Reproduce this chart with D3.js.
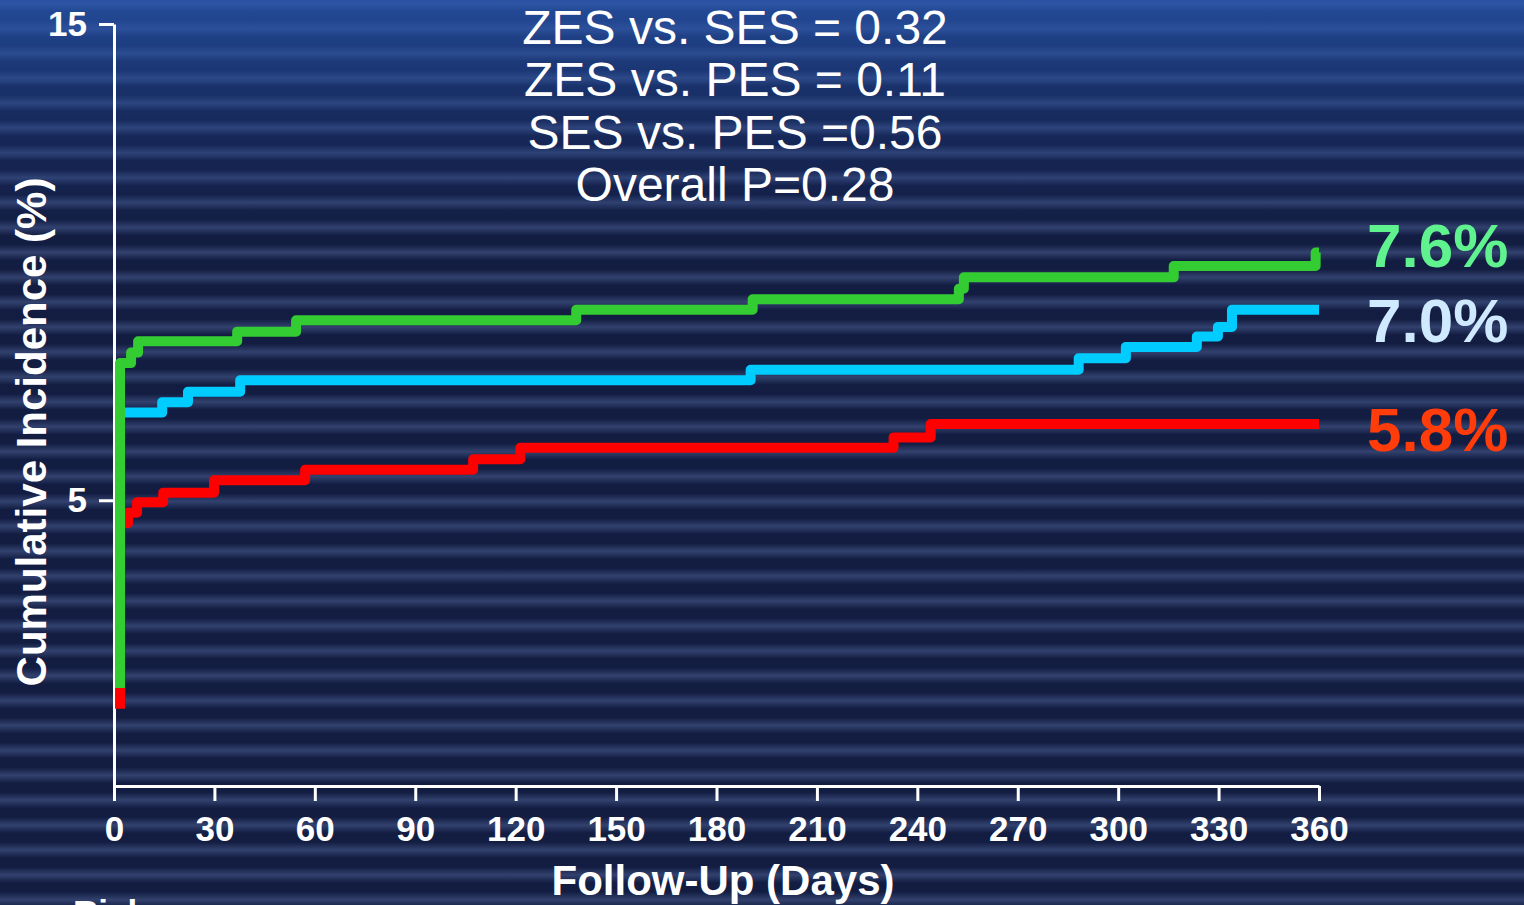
<!DOCTYPE html>
<html>
<head>
<meta charset="utf-8">
<script src="https://cdn.jsdelivr.net/npm/d3@7"></script>
<style>
  html, body { margin: 0; padding: 0; background: #131d42; overflow: hidden; }
  svg text { font-family: "Liberation Sans", Arial, Helvetica, sans-serif; }
</style>
</head>
<body>
<svg id="chart" width="1524" height="905"></svg>
<script>
// ---- data -------------------------------------------------------------
// Kaplan-Meier style cumulative incidence (%), step events by follow-up day
const greenStart  = 3.03;
const greenDays   = [1.8, 5.1, 7.2, 36.8, 54.4, 138.1, 190.8, 252.4, 253.9, 316.6, 359.0];
const greenRates  = [6.44, 6.55, 6.67, 6.77, 6.89, 7.00, 7.11, 7.22, 7.34, 7.46, 7.6];

const blueStart   = 3.1;
const blueDays    = [1.8, 14.4, 22.1, 37.7, 190.2, 288.2, 302.3, 323.5, 329.8, 334.0];
const blueRates   = [5.92, 6.03, 6.14, 6.26, 6.37, 6.49, 6.61, 6.72, 6.82, 7.0];

const redStart    = 2.81;
const redDays     = [1.8, 4.2, 6.9, 14.7, 29.9, 57.1, 107.3, 121.4, 232.9, 244.0];
const redRates    = [4.76, 4.87, 4.98, 5.08, 5.21, 5.32, 5.43, 5.55, 5.66, 5.8];

const followUpEnd = 360;

const xTickValues = [0, 30, 60, 90, 120, 150, 180, 210, 240, 270, 300, 330, 360];
const yTickValues = [5, 10];
const yTickLabels = ["5", "15"];

const pValueLines = [
  "ZES vs. SES = 0.32",
  "ZES vs. PES = 0.11",
  "SES vs. PES =0.56",
  "Overall P=0.28"
];

// ---- layout -----------------------------------------------------------
const W = 1524, H = 905;
const svg = d3.select("#chart");
const defs = svg.append("defs");

// textured slide background: navy base, soft horizontal streaks, blue glow at top
svg.append("rect").attr("width", W).attr("height", H).attr("fill", "#131d42");

const streak = defs.append("linearGradient").attr("id", "streak")
  .attr("x1", 0).attr("y1", 0).attr("x2", 0).attr("y2", 1);
streak.append("stop").attr("offset", 0).attr("stop-color", "#4b5f92").attr("stop-opacity", 0);
streak.append("stop").attr("offset", 0.5).attr("stop-color", "#4b5f92").attr("stop-opacity", 0.55);
streak.append("stop").attr("offset", 1).attr("stop-color", "#4b5f92").attr("stop-opacity", 0);

const streakY = d3.range(0, 38).map(k => 3.4 + k * 24.9);
svg.append("g").selectAll("rect").data(streakY).join("rect")
  .attr("x", 0).attr("width", W)
  .attr("y", d => d - 8).attr("height", 16)
  .attr("fill", "url(#streak)");

const glow = defs.append("linearGradient").attr("id", "glow")
  .attr("x1", 0).attr("y1", 0).attr("x2", 0).attr("y2", 1);
glow.append("stop").attr("offset", 0).attr("stop-color", "#2a5cb8").attr("stop-opacity", 0.75);
glow.append("stop").attr("offset", 0.45).attr("stop-color", "#2250a8").attr("stop-opacity", 0.3);
glow.append("stop").attr("offset", 1).attr("stop-color", "#1a3f90").attr("stop-opacity", 0);
svg.append("rect").attr("x", 0).attr("y", 0).attr("width", W).attr("height", 240)
  .attr("fill", "url(#glow)");

// ---- scales & axes ----------------------------------------------------
const x = d3.scaleLinear().domain([0, 360]).range([114, 1319]);
const y = d3.scaleLinear().domain([2, 10]).range([786, 24]);

const xAxis = d3.axisBottom(x).tickValues(xTickValues).tickSize(15).tickSizeOuter(0).tickPadding(15);
const yAxis = d3.axisLeft(y).tickValues(yTickValues).tickSize(15).tickSizeOuter(0).tickPadding(12)
  .tickFormat((d, i) => yTickLabels[i]);

function styleAxis(g) {
  g.select(".domain").attr("stroke", "#fff").attr("stroke-width", 3);
  g.selectAll(".tick line").attr("stroke", "#fff").attr("stroke-width", 3);
  g.selectAll(".tick text").attr("fill", "#fff")
    .attr("font-size", 35).attr("font-weight", "bold");
}

svg.append("g").attr("transform", `translate(0,${y(2)})`).call(xAxis).call(styleAxis);
svg.append("g").attr("transform", `translate(${x(0)},0)`).call(yAxis).call(styleAxis);

// axis titles
svg.append("text")
  .attr("x", 723).attr("y", 895)
  .attr("text-anchor", "middle").attr("fill", "#fff")
  .attr("font-size", 42).attr("font-weight", "bold")
  .text("Follow-Up (Days)");

svg.append("text")
  .attr("transform", "translate(46,432) rotate(-90)")
  .attr("text-anchor", "middle").attr("fill", "#fff")
  .attr("font-size", 42).attr("font-weight", "bold")
  .text("Cumulative Incidence (%)");

// caption running off the bottom edge of the slide
svg.append("text")
  .attr("x", 73).attr("y", 925)
  .attr("fill", "#fff").attr("font-size", 35).attr("font-weight", "bold")
  .text("Risk");

// ---- step curves ------------------------------------------------------
const series = [
  { start: redStart,   days: redDays,   rates: redRates,   stroke: "#ff0000", label: "#ff3c0a", labelDy: 27 },
  { start: blueStart,  days: blueDays,  rates: blueRates,  stroke: "#00ccff", label: "#cfe9ff", labelDy: 32 },
  { start: greenStart, days: greenDays, rates: greenRates, stroke: "#33cc33", label: "#5ff28f", labelDy: 14 }
];

function stepPath(s) {
  const p = d3.path();
  p.moveTo(x(s.days[0]), y(s.start));
  s.days.forEach((d, i) => {
    p.lineTo(x(d), i === 0 ? y(s.start) : y(s.rates[i - 1]));
    p.lineTo(x(d), y(s.rates[i]));
  });
  p.lineTo(x(followUpEnd), y(s.rates[s.rates.length - 1]));
  return p.toString();
}

svg.append("g").selectAll("path").data(series).join("path")
  .attr("d", stepPath)
  .attr("fill", "none")
  .attr("stroke", d => d.stroke)
  .attr("stroke-width", 10)
  .attr("stroke-linejoin", "round")
  .attr("stroke-linecap", "butt");

// final one-year rates
const fmt = d3.format(".1f");
svg.append("g").selectAll("text").data(series).join("text")
  .attr("x", 1367)
  .attr("y", d => y(d.rates[d.rates.length - 1]) + d.labelDy)
  .attr("fill", d => d.label)
  .attr("font-size", 62).attr("font-weight", "bold")
  .text(d => fmt(d.rates[d.rates.length - 1]) + "%");

// ---- p-values ---------------------------------------------------------
svg.append("g").selectAll("text").data(pValueLines).join("text")
  .attr("x", 735)
  .attr("y", (d, i) => 44 + i * 52.3)
  .attr("text-anchor", "middle")
  .attr("fill", "#fff")
  .attr("font-size", 48)
  .text(d => d);
</script>
</body>
</html>
